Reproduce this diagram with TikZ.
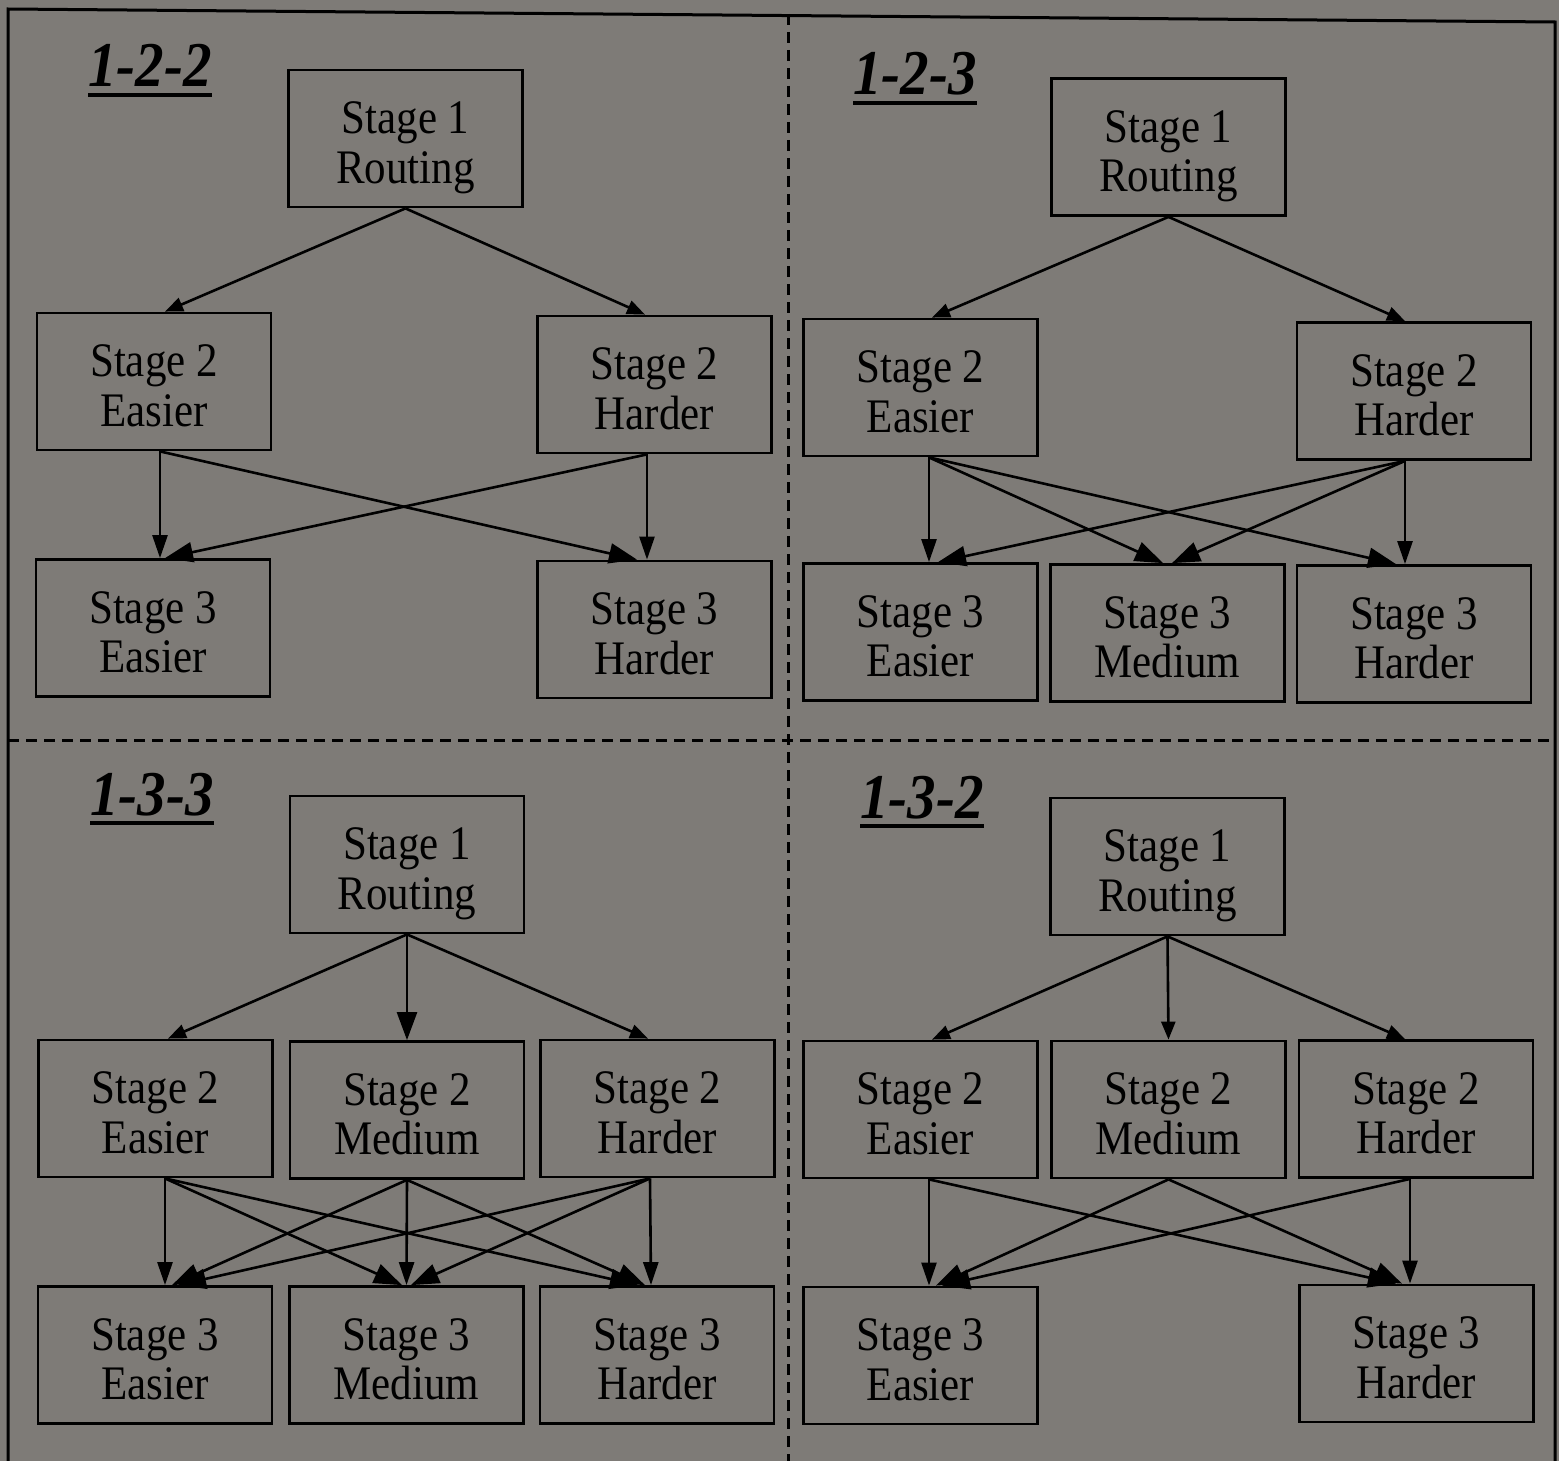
\documentclass[tikz,border=0pt]{standalone}
\usepackage{fontspec}
\setmainfont{Liberation Serif}
\usetikzlibrary{arrows.meta}
\definecolor{paper}{RGB}{126,123,119}
% two-line box label, slightly stretched vertically and set a little low in its box
\newcommand{\boxtext}[2]{\raisebox{-5pt}[\height][\depth]{\scalebox{1}[1.12]{\begin{tabular}{@{}c@{}}#1\\#2\end{tabular}}}}
% underlined bold-italic panel heading
\newcommand{\paneltitle}[1]{\scalebox{1}[1.12]{\setbox0=\hbox{\bfseries\itshape #1}\rlap{\rule[-4.3pt]{\wd0}{1.5pt}}\box0}}
\begin{document}
\begin{tikzpicture}[x=0.5pt,y=-0.5pt,
  box/.style={draw=black, line width=1.4pt, minimum width=117pt, minimum height=68.5pt,
    inner sep=0pt, font=\fontsize{21.5}{22.3}\selectfont},
  ttl/.style={anchor=base west, inner sep=0pt, font=\fontsize{28.5}{31}\selectfont},
  arr/.style={draw=black, line width=1.3pt, -{Triangle[length=9pt,width=7pt]}},
  arrv/.style={draw=black, line width=1.3pt, -{Triangle[length=11.5pt,width=7.5pt]}},
  arrd/.style={draw=black, line width=1.3pt, -{Triangle[length=14pt,width=10pt]}},
  divider/.style={draw=black, line width=1.5pt, dash pattern=on 5.5pt off 3.5pt}]
\fill[paper] (0,0) rectangle (1559,1461);
\useasboundingbox (0,0) rectangle (1559,1461);

% outer frame and quadrant dividers
\draw[line width=1.5pt] (8,1461) -- (8,9) -- (1555,22) -- (1555,1461);
\draw[divider] (788,14) -- (788,1461);
\draw[divider] (8,740) -- (1550,740);

% ---------------- 1-2-2 ----------------
\node[ttl] (t1) at (88,87) {\paneltitle{1-2-2}};
\node[box] (a1)  at (405.5,138.5) {\boxtext{Stage 1}{Routing}};
\node[box] (a2e) at (154,381.5)   {\boxtext{Stage 2}{Easier}};
\node[box] (a2h) at (654.5,384.5) {\boxtext{Stage 2}{Harder}};
\node[box] (a3e) at (153,628)     {\boxtext{Stage 3}{Easier}};
\node[box] (a3h) at (654.5,629.5) {\boxtext{Stage 3}{Harder}};
\draw[arr] (a1.south) -- ([xshift=5.5pt]a2e.north);
\draw[arr] (a1.south) -- ([xshift=-4.75pt]a2h.north);
\draw[arrv] ([xshift=3pt]a2e.south) -- ([xshift=3.5pt]a3e.north);
\draw[arrd] ([xshift=3pt]a2e.south) -- ([xshift=-8.75pt]a3h.north);
\draw[arrv] ([xshift=-3.75pt]a2h.south) -- ([xshift=-3.75pt]a3h.north);
\draw[arrd] ([xshift=-3.75pt]a2h.south) -- ([xshift=6pt]a3e.north);

% ---------------- 1-2-3 ----------------
\node[ttl] (t2) at (853,95) {\paneltitle{1-2-3}};
\node[box] (b1)  at (1168.5,147)  {\boxtext{Stage 1}{Routing}};
\node[box] (b2e) at (920.5,387.5) {\boxtext{Stage 2}{Easier}};
\node[box] (b2h) at (1414,391)    {\boxtext{Stage 2}{Harder}};
\node[box] (b3e) at (920.5,632)   {\boxtext{Stage 3}{Easier}};
\node[box] (b3m) at (1167.5,633)  {\boxtext{Stage 3}{Medium}};
\node[box] (b3h) at (1414,634)    {\boxtext{Stage 3}{Harder}};
\draw[arr] (b1.south) -- ([xshift=5.75pt]b2e.north);
\draw[arr] (b1.south) -- ([xshift=-4.5pt]b2h.north);
\draw[arrv] ([xshift=4.25pt]b2e.south) -- ([xshift=4.25pt]b3e.north);
\draw[arrd] ([xshift=4.25pt]b2e.south) -- ([xshift=-2.25pt]b3m.north);
\draw[arrd] ([xshift=4.25pt]b2e.south) -- ([xshift=-9pt]b3h.north);
\draw[arrv] ([xshift=-4.5pt]b2h.south) -- ([xshift=-4.5pt]b3h.north);
\draw[arrd] ([xshift=-4.5pt]b2h.south) -- ([xshift=2.25pt]b3m.north);
\draw[arrd] ([xshift=-4.5pt]b2h.south) -- ([xshift=8.75pt]b3e.north);

% ---------------- 1-3-3 ----------------
\node[ttl] (t3) at (90,815) {\paneltitle{1-3-3}};
\node[box] (c1)  at (407,864.5)    {\boxtext{Stage 1}{Routing}};
\node[box] (c2e) at (155.5,1108.5) {\boxtext{Stage 2}{Easier}};
\node[box] (c2m) at (407,1110)     {\boxtext{Stage 2}{Medium}};
\node[box] (c2h) at (657.5,1108.5) {\boxtext{Stage 2}{Harder}};
\node[box] (c3e) at (155,1355)     {\boxtext{Stage 3}{Easier}};
\node[box] (c3m) at (406.5,1355)   {\boxtext{Stage 3}{Medium}};
\node[box] (c3h) at (657,1355)     {\boxtext{Stage 3}{Harder}};
\draw[arr] (c1.south) -- ([xshift=6.25pt]c2e.north);
\draw[arrd] (c1.south) -- (c2m.north);
\draw[arr] (c1.south) -- ([xshift=-4.75pt]c2h.north);
\draw[arrv] ([xshift=4.75pt]c2e.south) -- ([xshift=5pt]c3e.north);
\draw[arrd] ([xshift=4.75pt]c2e.south) -- ([xshift=-2.25pt]c3m.north);
\draw[arrd] ([xshift=4.75pt]c2e.south) -- ([xshift=-9.5pt]c3h.north);
\draw[arrd] (c2m.south) -- ([xshift=8.5pt]c3e.north);
\draw[arrv] (c2m.south) -- (c3m.north);
\draw[arrd] (c2m.south) -- ([xshift=-6pt]c3h.north);
\draw[arrv] ([xshift=-3.75pt]c2h.south) -- ([xshift=-3pt]c3h.north);
\draw[arrd] ([xshift=-3.75pt]c2h.south) -- ([xshift=2.25pt]c3m.north);
\draw[arrd] ([xshift=-3.75pt]c2h.south) -- ([xshift=11.5pt]c3e.north);

% ---------------- 1-3-2 ----------------
\node[ttl] (t4) at (860,818) {\paneltitle{1-3-2}};
\node[box] (d1)  at (1167.5,866.5) {\boxtext{Stage 1}{Routing}};
\node[box] (d2e) at (920.5,1109.5) {\boxtext{Stage 2}{Easier}};
\node[box] (d2m) at (1168.5,1109.5){\boxtext{Stage 2}{Medium}};
\node[box] (d2h) at (1416,1109)    {\boxtext{Stage 2}{Harder}};
\node[box] (d3e) at (920.5,1355.5) {\boxtext{Stage 3}{Easier}};
\node[box] (d3h) at (1416.5,1353.5){\boxtext{Stage 3}{Harder}};
\draw[arr] (d1.south) -- ([xshift=5.75pt]d2e.north);
\draw[arr] (d1.south) -- (d2m.north);
\draw[arr] (d1.south) -- ([xshift=-5.5pt]d2h.north);
\draw[arrv] ([xshift=4.25pt]d2e.south) -- ([xshift=4.25pt]d3e.north);
\draw[arrd] ([xshift=4.25pt]d2e.south) -- ([xshift=-10.25pt]d3h.north);
\draw[arrd] (d2m.south) -- ([xshift=7.75pt]d3e.north);
\draw[arrd] (d2m.south) -- ([xshift=-7.25pt]d3h.north);
\draw[arrv] ([xshift=-3pt]d2h.south) -- ([xshift=-3.25pt]d3h.north);
\draw[arrd] ([xshift=-3pt]d2h.south) -- ([xshift=10.75pt]d3e.north);
\end{tikzpicture}
\end{document}
